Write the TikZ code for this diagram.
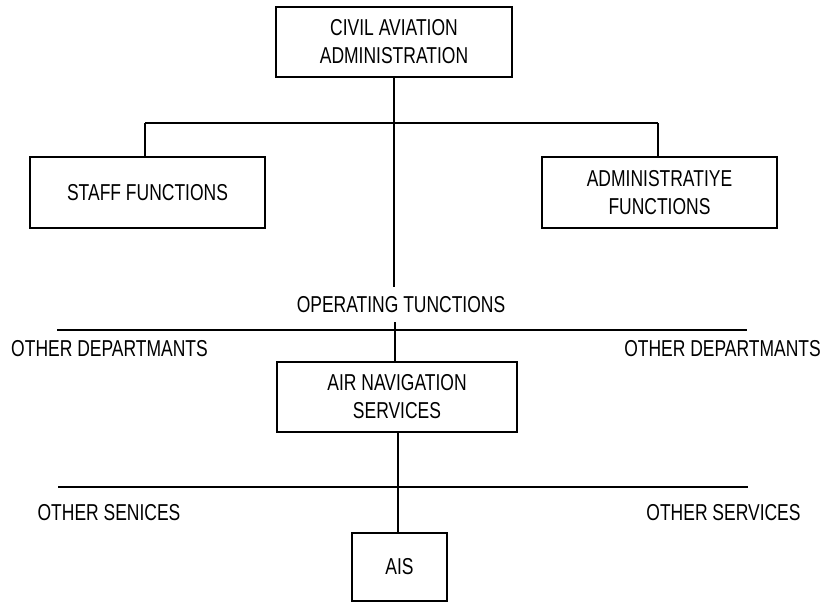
\documentclass[tikz,border=0pt]{standalone}
\usepackage{fontspec}
\setmainfont{Liberation Sans}[FakeStretch=0.76]
\begin{document}
\begin{tikzpicture}[x=1pt,y=-1pt,
  orgbox/.style={draw=black,line width=2pt,align=center,inner sep=0pt,
     font=\fontsize{23}{28}\selectfont},
  lbl/.style={inner sep=0pt,font=\fontsize{23}{28}\selectfont},
  conn/.style={draw=black,line width=1.2pt}]
\useasboundingbox (0,0) rectangle (825,603);
\node[orgbox,minimum width=236pt,minimum height=70pt] (caa) at (394,42) {CIVIL AVIATION\\ADMINISTRATION};
\node[orgbox,minimum width=235pt,minimum height=71pt] (staff) at (147.5,192.5) {STAFF FUNCTIONS};
\node[orgbox,minimum width=235pt,minimum height=71pt] (admin) at (659.5,192.5) {ADMINISTRATIYE\\FUNCTIONS};
\node[lbl] (op) at (401,305) {OPERATING TUNCTIONS};
\node[orgbox,minimum width=240pt,minimum height=70pt] (ans) at (397,397) {AIR NAVIGATION\\SERVICES};
\node[orgbox,minimum width=95pt,minimum height=68pt] (ais) at (399.5,567) {AIS};
\node[lbl] (odl) at (109.5,349) {OTHER DEPARTMANTS};
\node[lbl] (odr) at (722.5,349) {OTHER DEPARTMANTS};
\node[lbl] (osl) at (109,513) {OTHER SENICES};
\node[lbl] (osr) at (723.5,513) {OTHER SERVICES};
\coordinate (brl) at (145,123);
\coordinate (brr) at (658,123);
\coordinate (l1a) at (57,330);
\coordinate (l1b) at (747,330);
\coordinate (l2a) at (58,487);
\coordinate (l2b) at (748,487);
\draw[conn] (caa.south) -- ([yshift=10pt]op.north -| caa.south);
\draw[conn] (brl) -- (brr);
\draw[conn] (brl) -- (brl |- staff.north);
\draw[conn] (brr) -- (brr |- admin.north);
\draw[conn] ([yshift=-9pt]op.south -| 395,0) -- (ans.north -| 395,0);
\draw[conn] (l1a) -- (l1b);
\draw[conn] (l2a) -- (l2b);
\draw[conn] (ans.south -| 398,0) -- (ais.north -| 398,0);
\end{tikzpicture}
\end{document}
